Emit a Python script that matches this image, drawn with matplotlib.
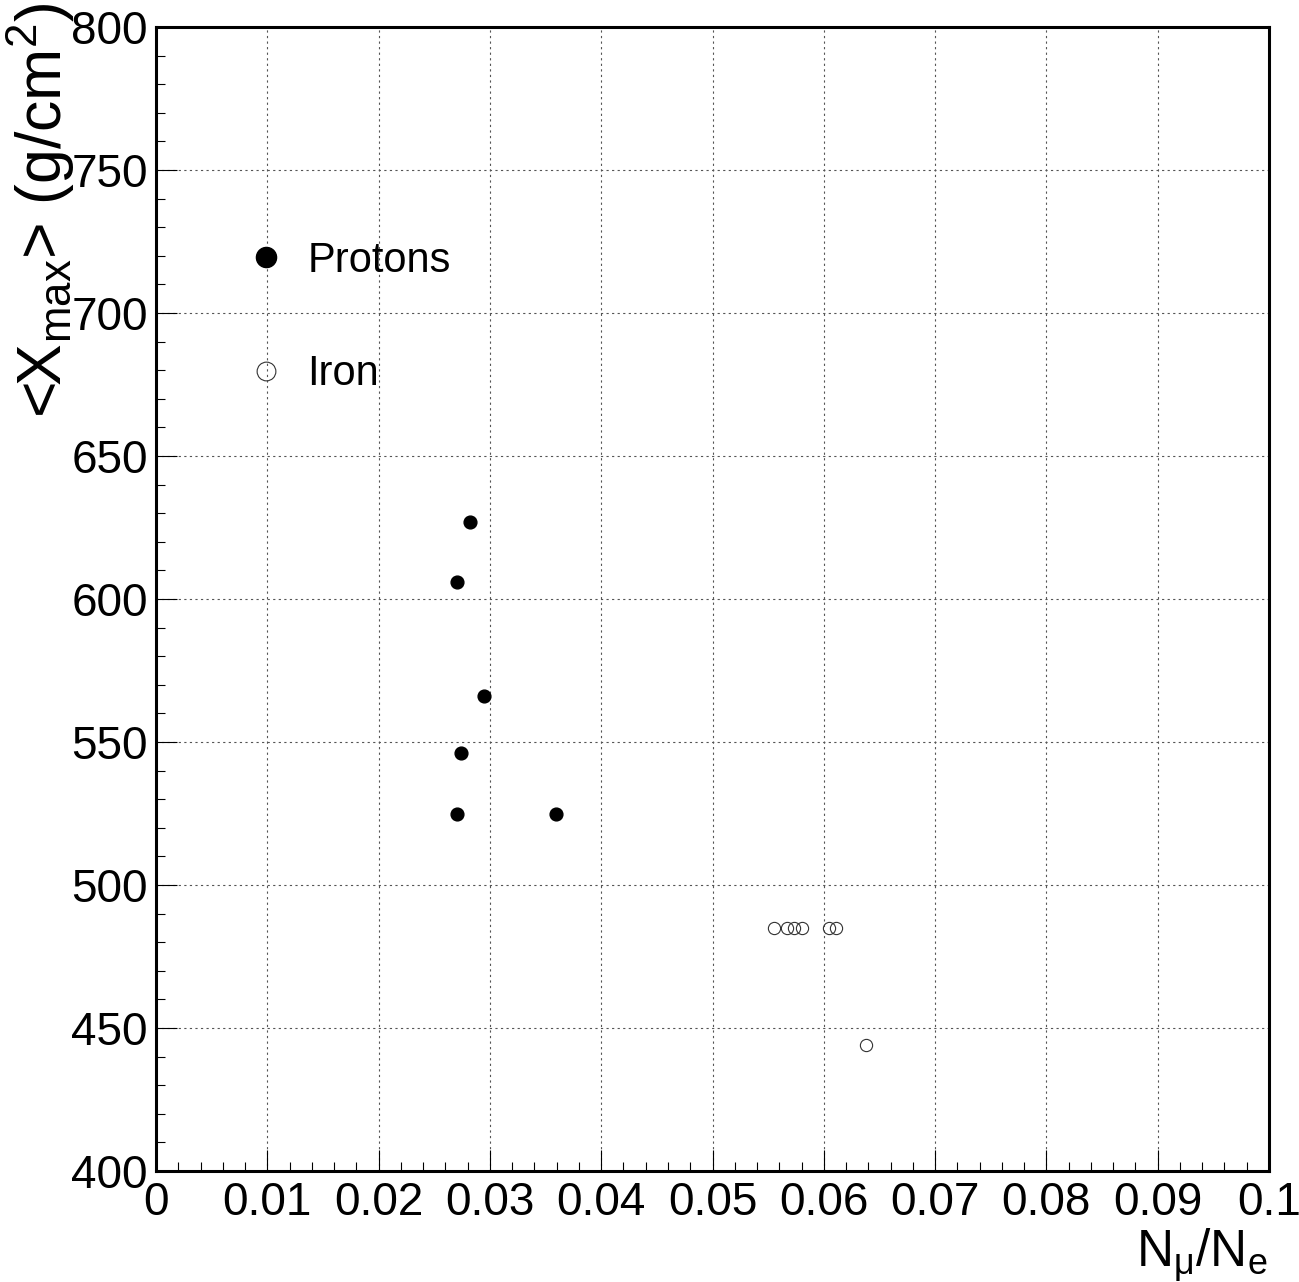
import matplotlib
matplotlib.use("Agg")
import matplotlib.pyplot as plt
from matplotlib.ticker import MultipleLocator
from matplotlib.lines import Line2D

plt.rcParams['font.family'] = ['Liberation Sans', 'DejaVu Sans']
plt.rcParams['mathtext.fontset'] = 'custom'
plt.rcParams['mathtext.rm'] = 'Liberation Sans'
plt.rcParams['mathtext.it'] = 'Liberation Sans:italic'
plt.rcParams['mathtext.default'] = 'regular'

# Data
proton_x = [0.0282, 0.0270, 0.0295, 0.0274, 0.0270, 0.0359]
proton_y = [627, 606, 566, 546, 525, 525]
iron_x = [0.0555, 0.0567, 0.0573, 0.0580, 0.0605, 0.0611, 0.0638]
iron_y = [485, 485, 485, 485, 485, 485, 444]
x_ticks = [0, 0.01, 0.02, 0.03, 0.04, 0.05, 0.06, 0.07, 0.08, 0.09, 0.1]
x_tick_labels = ["0", "0.01", "0.02", "0.03", "0.04", "0.05", "0.06", "0.07", "0.08", "0.09", "0.1"]
y_ticks = [400, 450, 500, 550, 600, 650, 700, 750, 800]
series_labels = ["Protons", "Iron"]

W, H = 1299, 1282
fig = plt.figure(figsize=(W / 100, H / 100), dpi=100)
ax = fig.add_axes([156 / W, 1 - 1171 / H, 1113 / W, 1144 / H])

ax.plot(proton_x, proton_y, 'o', color='black', markersize=9.2, linestyle='none',
        label=series_labels[0])
ax.plot(iron_x, iron_y, 'o', markerfacecolor='none', markeredgecolor='#333333',
        markeredgewidth=0.8, markersize=8.8, linestyle='none', label=series_labels[1])

ax.set_xlim(0, 0.1)
ax.set_ylim(400, 800)
ax.set_xticks(x_ticks)
ax.set_xticklabels(x_tick_labels)
ax.xaxis.set_minor_locator(MultipleLocator(0.002))
ax.set_yticks(y_ticks)
ax.yaxis.set_minor_locator(MultipleLocator(10))

ax.tick_params(which='both', direction='in', top=False, right=False, colors='black')
ax.tick_params(which='major', length=15, width=0.8, labelsize=33, pad=7)
ax.tick_params(which='minor', length=6.5, width=0.8)
ax.tick_params(axis='y', which='major', pad=6)

for s in ax.spines.values():
    s.set_linewidth(2.2)
    s.set_color('black')

ax.grid(True, which='major', color='#555555', linestyle=(0, (2, 3)), linewidth=0.8)
ax.set_axisbelow(True)

handles = [
    Line2D([], [], marker='o', color='black', markersize=14.5, linestyle='none'),
    Line2D([], [], marker='o', markerfacecolor='none', markeredgecolor='#333333',
           markeredgewidth=0.8, markersize=13.5, linestyle='none'),
]
ax.legend(handles, series_labels, loc='center left', bbox_to_anchor=(0.080, 0.746),
          frameon=False, fontsize=30, handlelength=1.0, handletextpad=0.5,
          labelspacing=1.77, borderpad=0, borderaxespad=0)

fig.text(41 / W, 1 - 3 / H, r"<X$_{max}$> (g/cm$^{2}$)", rotation=90,
         ha='center', va='top', fontsize=45)
fig.text(1268 / W, 1 - 1267 / H, r"N$_{\mu}$/N$_{e}$", ha='right', va='baseline',
         fontsize=37)

fig.savefig("out.png", dpi=100)
